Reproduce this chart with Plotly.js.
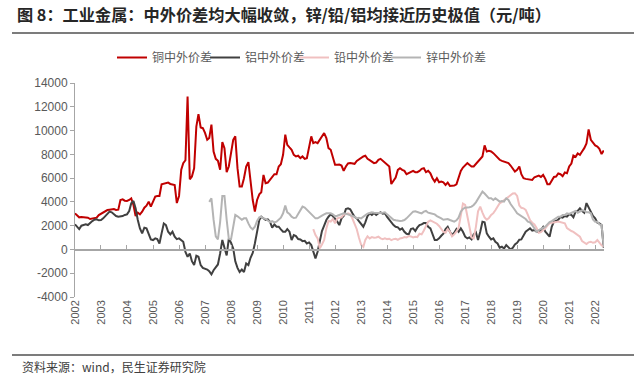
<!DOCTYPE html>
<html>
<head>
<meta charset="utf-8">
<script src="https://cdn.plot.ly/plotly-3.0.1.min.js"></script>
<style>html,body{margin:0;padding:0;background:#fff;}#chart{width:640px;height:378px;}</style>
</head>
<body>
<div id="chart"></div>
<script>
// Monthly series (元/吨)
const copperStart = "2002-01";
const copper = [
  3035, 2810, 2700, 2725, 2700, 2670, 2670, 2560, 2585, 2670, 2670, 2895,
  3000, 3090, 3230, 3315, 3345, 3345, 3400, 3315, 3345, 4160, 4215, 4100,
  4075, 4160, 4300, 3740, 2810, 3090, 2950, 3175, 3510, 3680, 4020, 3600,
  4020, 4440, 4500, 4500, 5480, 5510, 5540, 5620, 5510, 5450, 5420, 3900,
  4500, 6700, 7250, 7500, 12870, 5900, 6125, 6830, 10340, 11380, 10260, 10200,
  9800, 9225, 9370, 10500, 8240, 7620, 7450, 6700, 9030, 8520, 6500, 6975,
  8100, 9225, 9510, 6835, 5290, 5290, 5990, 6975, 7340, 5710, 4160, 3180,
  4160, 4640, 4810, 6270, 5570, 5625, 5850, 6130, 6330, 6330, 6975, 7170,
  7960, 9650, 8800, 8580, 8380, 7960, 7820, 7880, 7680, 7820, 7620, 7680,
  8520, 9510, 8945, 9030, 8945, 9225, 9510, 9790, 9370, 8520, 8380, 7820,
  7120, 7120, 7145, 7060, 6610, 6975, 7230, 7260, 7230, 7200, 7450, 7570,
  7735, 7820, 7880, 7620, 7510, 7400, 7260, 7310, 7540, 7620, 7450, 7340,
  7170, 6975, 5500, 5750, 6050, 6695, 6835, 6695, 6610, 6330, 6410, 6550,
  6610, 6500, 6500, 6610, 6780, 6835, 6500, 6610, 6410, 5990, 5710, 5990,
  5650, 5710, 5650, 5430, 5625, 5345, 5370, 5370, 5485, 6050, 6610, 6890,
  7120, 7260, 7120, 6975, 6975, 7200, 7450, 7680, 7820, 8750, 8240, 8300,
  8240, 8100, 7900, 7680, 7540, 7450, 7400, 7310, 7260, 7060, 6780, 6550,
  6695, 6975, 6330, 5990, 5935, 5910, 5935, 5850, 6075, 6160, 6215, 6100,
  6270, 5935, 5485, 5485, 5765, 6100, 6130, 6385, 6330, 6160, 6470, 6410,
  6975, 7230, 7900, 7790, 8075, 7960, 8240, 8520, 8915, 10100, 9225, 8945,
  8750, 8660, 8470, 8020, 8330
];
const aluminumStart = "2002-01";
const aluminum = [
  2110, 1910, 1715, 2000, 2050, 2110, 2050, 2250, 2390, 2500, 2530, 2450,
  2475, 2615, 2810, 3040, 3180, 3120, 2950, 2810, 2755, 2755, 2810, 2900,
  2950, 3235, 3880, 4080, 3460, 2475, 1770, 1350, 1830, 1770, 1210, 845,
  790, 930, 870, 505, 1350, 2190, 2050, 1490, 1265, 1490, 1070, 870,
  930, 790, 650, -200, -620, -340, -985, -1320, -535, -620, -1320, -1550,
  -1600, -1690, -1830, -2100, -1745, -1460, -1265, -340, 800, 140, -500, 900,
  560, 85, -1000, -1550, -1900, -1690, -1900, -1180, -1320, -700, -300, 500,
  1500, 2475, 2755, 2615, 2475, 2530, 2335, 1830, 2110, 1910, 1910, 1690,
  1490, 1490, 1715, 1490, 790, 1210, 1125, 870, 845, 700, 730, 505,
  590, 365, -140, -750, -200, 790, 1545, 2000, 2475, 2755, 2950, 2810,
  2615, 2335, 2050, 2615, 2810, 3400, 3460, 3375, 3040, 2755, 2615, 2390,
  2220, 1910, 2280, 2810, 3040, 2900, 3065, 2900, 3040, 3120, 3010, 3040,
  2730, 2475, 2335, 2050, 1910, 1855, 1660, 1770, 1490, 1320, 1265, 1715,
  1770, 1545, 1830, 2050, 2110, 2220, 2220, 1910, 1770, 1265, 790, 790,
  930, 1150, 1320, 1715, 1910, 1490, 1210, 1405, 1715, 1490, 1770, 1490,
  1070, 930, 1010, 845, 1265, 1435, 790, 1490, 2335, 2280, 1350, 1070,
  845, 930, 650, 505, 140, 225, 85, 365, 140, 0, 140, 420,
  560, 815, 845, 1210, 1490, 1630, 1770, 1575, 1630, 1490, 1490, 1630,
  1885, 1490, 1265, 1070, 1910, 2335, 2390, 2500, 2730, 2670, 2810, 2755,
  2950, 2900, 2700, 3180, 3235, 3460, 3235, 3090, 3900, 3515, 3120, 2810,
  2615, 2250, 2190, 2050, 140
];
const leadStart = "2011-03";
const lead = [
  1715, 1210, 930, 100, 420, 790, 1770, 2400, 2335, 2560,
  2200, 2615, 2670, 2700, 2925, 2950, 3040, 2950, 2600, 2200, 1700, 1000,
  400, 220, 800, 1100, 930, 1040, 985, 1010, 1070, 930, 870, 930,
  870, 900, 790, 870, 900, 815, 930, 955, 1040, 1010, 1125, 1095,
  1010, 1070, 1040, 1320, 1265, 1600, 2000, 2335, 2450, 2360, 2280, 2165,
  1970, 1770, 1490, 1405, 1715, 1490, 1100, 1265, 1490, 1830, 3040, 3855,
  3740, 2755, 1830, 1000, 930, 1900, 3200, 3600, 3100, 2700, 2500, 2650,
  2900, 3050, 3300, 3600, 3880, 4000, 4150, 4300, 4450, 4580, 4700, 4730,
  4500, 3700, 3500, 3460, 3320, 2900, 2470, 2250, 2100, 1800, 1400, 1450,
  1600, 1770, 2000, 2200, 2250, 2250, 2300, 2350, 2300, 2250, 2200, 1800,
  1650, 1550, 1480, 1350, 1200, 1070, 700, 550, 450, 600, 650, 560,
  600, 790, 550, 350, 225
];
const zincStart = "2007-03";
const zinc = [
  4000, 4300, 2500, 1100, 850, 2300, 4500, 4500, 2500, 900,
  850, 2000, 2900, 2785, 2615, 2500, 2615, 2615, 2190, 1855, 1690, 1910,
  2390, 2700, 2755, 2615, 2560, 2390, 2305, 2390, 2280, 2335, 2475, 2670,
  3040, 3685, 3120, 2980, 2755, 2645, 2670, 2980, 3320, 3600, 3515, 3345,
  3120, 2950, 2755, 2615, 2615, 2755, 2840, 2950, 3040, 3040, 3040, 2950,
  2785, 2840, 2900, 3010, 3040, 3010, 2950, 2900, 2840, 2755, 2615, 2670,
  2615, 2755, 2900, 3010, 3065, 3120, 3090, 3065, 3040, 3065, 3090, 3120,
  2950, 2785, 2615, 2500, 2450, 2390, 2390, 2420, 2475, 2615, 2810, 3010,
  3180, 3205, 3180, 3090, 3040, 3180, 3235, 3090, 3040, 3010, 2950, 2810,
  2730, 2615, 2500, 2500, 2560, 2475, 2390, 2335, 2450, 2670, 3180, 3400,
  3515, 3515, 3545, 3600, 3740, 3965, 4250, 4500, 4865, 4700, 4445, 4300,
  4300, 4160, 4300, 4160, 4020, 4075, 4020, 4300, 4160, 3825, 3600, 3320,
  3040, 2925, 2810, 2730, 2560, 2335, 2280, 2050, 1770, 1490, 1630, 1715,
  1830, 1910, 2110, 2305, 2390, 2500, 2645, 2755, 2755, 2900, 2900, 3040,
  2980, 3065, 3180, 3235, 3090, 3180, 3290, 3260, 3120, 3120, 3040, 2530,
  2335, 2335, 2110, 2050, 225
];
const seriesNames = ["铜中外价差", "铝中外价差", "铅中外价差", "锌中外价差"];
const yTickVals = [-4000, -2000, 0, 2000, 4000, 6000, 8000, 10000, 12000, 14000];
const yTickText = ["-4000", "-2000", "0", "2000", "4000", "6000", "8000", "10000", "12000", "14000"];

function monthDates(start, n) {
  let [y, m] = start.split("-").map(Number);
  const out = [];
  for (let i = 0; i < n; i++) {
    out.push(y + "-" + String(m).padStart(2, "0") + "-01");
    m++; if (m > 12) { m = 1; y++; }
  }
  return out;
}

const colors = ["#C00000", "#404040", "#F0C0C0", "#B4B4B4"];
const legendIds = ["legend", "legend2", "legend3", "legend4"];
const sets = [[copperStart, copper], [aluminumStart, aluminum], [leadStart, lead], [zincStart, zinc]];
const traces = sets.map((s, i) => ({
  type: "scatter", mode: "lines", name: seriesNames[i], legend: legendIds[i],
  x: monthDates(s[0], s[1].length), y: s[1],
  line: {color: colors[i], width: 2}, hoverinfo: "skip"
}));

// plot area pixel geometry
const L = 75, R = 604, T = 83, B = 297, W = 640, H = 378;
const px = X => (X - L) / (R - L);
const py = Y => (B - Y) / (B - T);
const xRange = ["2002-01-01", "2022-05-05"];
const gray = "#595959";
const fam = "'Liberation Sans', 'Noto Sans CJK SC', sans-serif";

const legendTextX = [153, 246, 335, 427];

const layout = {
  width: W, height: H,
  margin: {l: L, r: W - R, t: T, b: H - B, pad: 0},
  paper_bgcolor: "#fff", plot_bgcolor: "#fff",
  font: {family: fam, color: gray, size: 12},
  title: {
    text: "图 8：工业金属：中外价差均大幅收敛，锌/铅/铝均接近历史极值（元/吨）",
    xref: "container", yref: "container", x: 17 / W, xanchor: "left",
    y: 1 - 15.5 / H, yanchor: "middle",
    font: {family: "'Noto Sans CJK SC', sans-serif", size: 16.2, color: "#262626", weight: "bold"}
  },
  showlegend: true,
  xaxis: {
    type: "date", range: xRange, dtick: "M12", tick0: "2002-01-01", tickformat: "%Y",
    tickangle: -90, ticks: "", showline: false, showgrid: false, zeroline: false,
    tickfont: {size: 11, color: gray, family: fam}
  },
  xaxis2: {
    type: "date", range: xRange, dtick: "M12", tick0: "2002-01-01",
    overlaying: "x", anchor: "free", position: 4000 / 18000, side: "bottom",
    showticklabels: false, showgrid: false, zeroline: false,
    showline: true, linecolor: "#A6A6A6", linewidth: 1.5,
    ticks: "inside", ticklen: 4, tickcolor: "#A6A6A6", tickwidth: 1
  },
  yaxis: {
    range: [-4000, 14000], tickvals: yTickVals, ticktext: yTickText,
    showgrid: false, zeroline: false, showline: true, linecolor: "#A6A6A6", linewidth: 1,
    ticks: "outside", ticklen: 4, tickcolor: "#A6A6A6",
    tickfont: {size: 12, color: gray, family: fam}
  },
  shapes: [
    {type: "line", xref: "paper", yref: "paper", x0: px(12), x1: px(634), y0: py(33), y1: py(33),
     line: {color: "#505050", width: 1.5}},
    {type: "line", xref: "paper", yref: "paper", x0: px(12), x1: px(634), y0: py(355), y1: py(355),
     line: {color: "#505050", width: 1.5}}
  ],
  annotations: [
    {xref: "paper", yref: "paper", x: px(20), y: py(366), xanchor: "left", yanchor: "middle",
     showarrow: false, text: "资料来源：wind，民生证券研究院",
     font: {family: "'Noto Sans CJK SC', sans-serif", size: 12, color: "#404040"}}
  ]
};
legendIds.forEach((id, i) => {
  layout[id] = {
    orientation: "h", x: px(legendTextX[i] - 41), xanchor: "left", y: py(43), yanchor: "top",
    font: {family: "'Noto Sans CJK SC', sans-serif", size: 12, color: gray},
    bgcolor: "rgba(0,0,0,0)"
  };
});

// empty trace on xaxis2 so the overlay (zero-line) axis is drawn
traces.push({type: "scatter", mode: "lines", x: [], y: [], xaxis: "x2", yaxis: "y", showlegend: false, hoverinfo: "skip"});

Plotly.newPlot("chart", traces, layout, {staticPlot: true, displayModeBar: false});
</script>
</body>
</html>
